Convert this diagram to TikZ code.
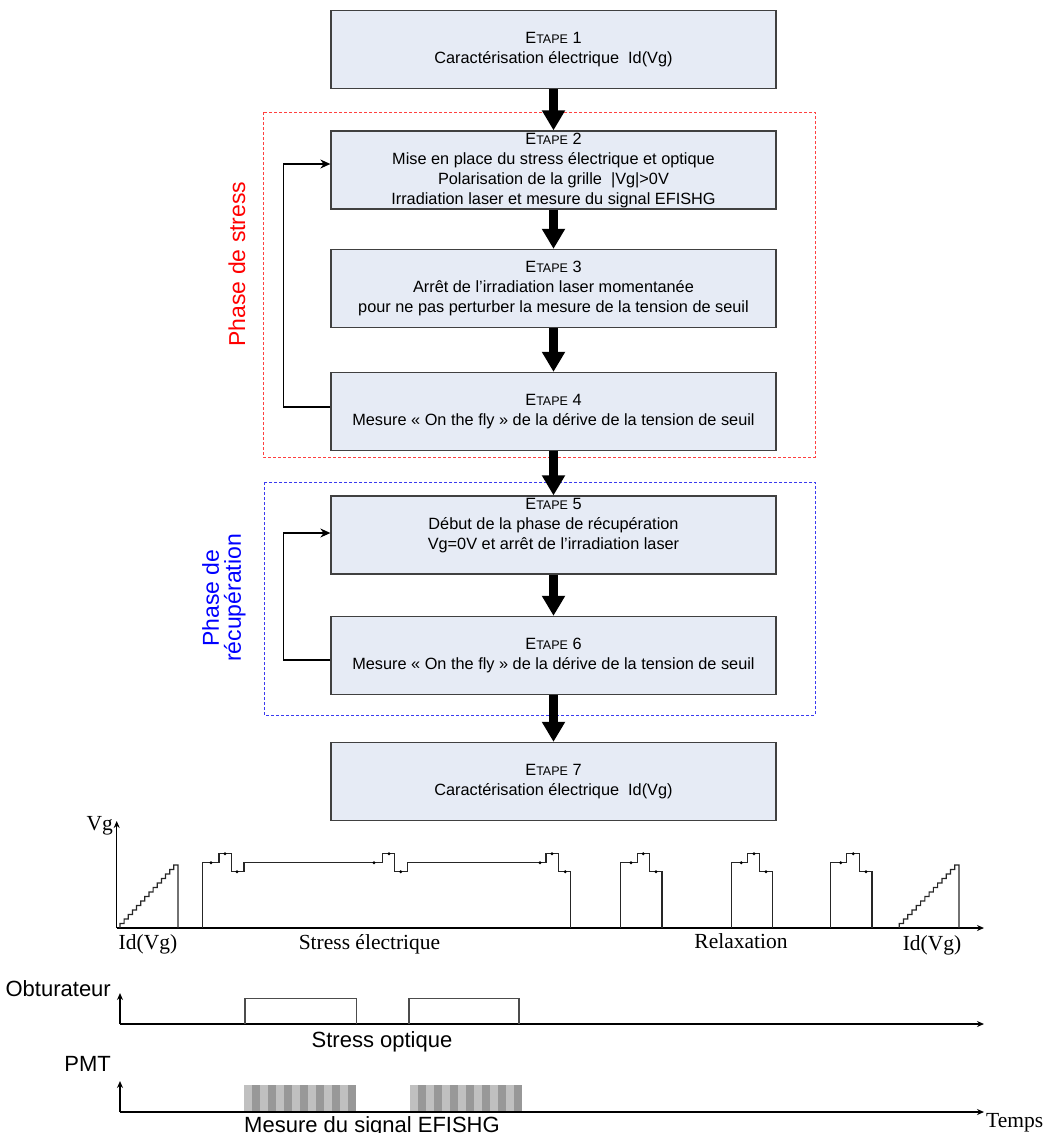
\documentclass[tikz,border=0pt]{standalone}
\usepackage{fontspec}
\setmainfont{Liberation Sans}
\newfontfamily\tms{Liberation Serif}
\usetikzlibrary{arrows.meta,calc}
\definecolor{boxfill}{HTML}{E6EBF5}
\definecolor{boxline}{HTML}{404040}
\definecolor{redd}{HTML}{FF4040}
\definecolor{blued}{HTML}{3A3AF0}
\definecolor{lg}{HTML}{C0C0C0}
\definecolor{dg}{HTML}{989898}
\definecolor{wv}{HTML}{262626}
\newcommand{\etp}[1]{E{\fontsize{12.5}{20}\selectfont TAPE} #1}
\begin{document}
\begin{tikzpicture}[x=1pt,y=-1pt,
  box/.style={draw=boxline,line width=1.3pt,fill=boxfill,minimum width=445pt,minimum height=78pt,align=center,inner sep=0pt,font=\fontsize{16.3}{20}\selectfont},
  btxt/.style={align=center,inner sep=0pt,font=\fontsize{16.3}{20}\selectfont},
  bigarr/.style={line width=8.5pt,-{Triangle[width=22pt,length=20pt]}},
  fb/.style={line width=1.3pt,-{Stealth[width=9pt,length=10pt]}},
  ax/.style={line width=1.2pt,draw=black,-{Stealth[width=6pt,length=7pt]}},
  wave/.style={line width=1.2pt,draw=wv},
  shut/.style={line width=1.2pt,draw=black!70},
  tlab/.style={font=\tms\fontsize{21.5}{24}\selectfont,anchor=base,inner sep=0pt},
  alab/.style={font=\fontsize{22}{24}\selectfont,anchor=base,inner sep=0pt},
  dotm/.style={fill=black}
]
\useasboundingbox (0,0) rectangle (1045,1133);

% dashed phase frames
\draw[redd,line width=1pt,dash pattern=on 3pt off 2pt] (263,112) rectangle (815,457);
\draw[blued,line width=1pt,dash pattern=on 3pt off 2pt] (264,482) rectangle (815,715);

% boxes
\node[box] (b1) at (553.5,49.5) {\etp{1}\\Caractérisation électrique\ \ Id(Vg)};
\node[box] (b2) at (553.5,170) {\etp{2}\\Mise en place du stress électrique et optique\\Polarisation de la grille\ \ |Vg|>0V\\Irradiation laser et mesure du signal EFISHG};
\node[box] (b3) at (553.5,288.5) {\etp{3}\\Arrêt de l’irradiation laser momentanée\\pour ne pas perturber la mesure de la tension de seuil};
\node[box] (b4) at (553.5,411.5) {\etp{4}\\Mesure « On the fly » de la dérive de la tension de seuil};
\node[box] (b5) at (553.5,535) {};
\node[btxt] (t5) at (553.5,526) {\etp{5}\\Début de la phase de récupération\\Vg=0V et arrêt de l’irradiation laser};
\node[box] (b6) at (553.5,655.5) {\etp{6}\\Mesure « On the fly » de la dérive de la tension de seuil};
\node[box] (b7) at (553.5,781.5) {\etp{7}\\Caractérisation électrique\ \ Id(Vg)};

% main arrows
\draw[bigarr] (b1.south) -- (b2.north);
\draw[bigarr] (b2.south) -- (b3.north);
\draw[bigarr] (b3.south) -- (b4.north);
\draw[bigarr] (b4.south) -- (b5.north);
\draw[bigarr] (b5.south) -- (b6.north);
\draw[bigarr] (b6.south) -- (b7.north);

% feedback loops
\draw[fb] ([yshift=4.5pt]b4.west) -- ++(-47,0) |- ([yshift=6pt]b2.west);
\draw[fb] ([yshift=-4.5pt]b6.west) -- ++(-47,0) |- ([yshift=2pt]b5.west);

% phase labels
\node[rotate=90,text=red,font=\fontsize{23}{26}\selectfont,inner sep=0pt] (ps) at (237,264) {Phase de stress};
\node[rotate=90,text=blue,align=center,font=\fontsize{23}{22}\selectfont,inner sep=0pt] (pr) at (224,598) {Phase de\\récupération};

% ---- Vg chronogram ----
\coordinate (o1) at (116.7,928);
\draw[ax] (o1) -- (116.7,821);
\draw[ax] (o1) -- (984,928);
\draw[wave] (120,928) \foreach \i in {1,...,14} { |- ++(4.14,-4.5) } -- (178,928);
\draw[wave] (899.3,928) \foreach \i in {1,...,14} { |- ++(4.26,-4.5) } -- (959,928);
\draw[wave] (202.7,928) -- (202.7,862.7) -- (219,862.7) -- (219,853.7) -- (231.7,853.7) -- (231.7,871.7) -- (244,871.7) -- (244,862.7)
  -- (382.7,862.7) -- (382.7,853.7) -- (394.7,853.7) -- (394.7,871.7) -- (407.3,871.7) -- (407.3,862.7)
  -- (546,862.7) -- (546,853.7) -- (558.7,853.7) -- (558.7,871.7) -- (570.7,871.7) -- (570.7,928);
\draw[wave] (620.7,928) -- (620.7,862.7) -- (637.7,862.7) -- (637.7,853.7) -- (649.3,853.7) -- (649.3,871.7) -- (662,871.7) -- (662,928);
\draw[wave] (731.7,928) -- (731.7,862.7) -- (747.7,862.7) -- (747.7,853.7) -- (759.7,853.7) -- (759.7,871.7) -- (772.3,871.7) -- (772.3,928);
\draw[wave] (830.7,928) -- (830.7,862.7) -- (846.7,862.7) -- (846.7,853.7) -- (859.3,853.7) -- (859.3,871.7) -- (872,871.7) -- (872,928);
\foreach \p in {(211,862.7),(225,853.7),(237,871.7),(374,862.7),(389,853.7),(400.7,871.7),(540,862.7),(552,853.7),(565.3,871.7),
  (631,862.7),(643.3,853.7),(656,871.7),(741.3,862.7),(754,853.7),(766,871.7),(840.7,862.7),(853.3,853.7),(866,871.7)}
  \fill[dotm] \p circle (1.6pt);
\node[tlab,anchor=base east] (vg) at (113,830) {Vg};
\node[tlab] (id1) at (148,949) {Id(Vg)};
\node[tlab] (se) at (369.5,949) {Stress électrique};
\node[tlab] (rl) at (741,948) {Relaxation};
\node[tlab] (id2) at (932,950) {Id(Vg)};

% ---- Obturateur ----
\coordinate (o2) at (120,1024);
\draw[ax] (o2) -- (120,993);
\draw[ax] (o2) -- (984,1024);
\draw[shut] (245,1024) -- (245,998.4) -- (356.5,998.4) -- (356.5,1024);
\draw[shut] (409,1024) -- (409,998.4) -- (519,998.4) -- (519,1024);
\node[alab,anchor=base east] (ob) at (111,996) {Obturateur};
\node[alab] (so) at (382,1047) {Stress optique};

% ---- PMT ----
\coordinate (o3) at (120,1112);
\fill[lg] (244.4,1085) rectangle (356.4,1112);
\fill[lg] (409.6,1085) rectangle (521.6,1112);
\foreach \i in {1,3,...,13} {
  \fill[dg] ({244.4+\i*8},1085) rectangle ++(8,27);
  \fill[dg] ({409.6+\i*8},1085) rectangle ++(8,27);
}
\draw[ax] (o3) -- (120,1081);
\draw[ax] (o3) -- (984,1112);
\node[alab,anchor=base east] (pmt) at (111,1071) {PMT};
\node[alab] (ms) at (372,1132) {Mesure du signal EFISHG};
\node[tlab,anchor=base west] (tp) at (986,1127) {Temps};
\end{tikzpicture}
\end{document}
